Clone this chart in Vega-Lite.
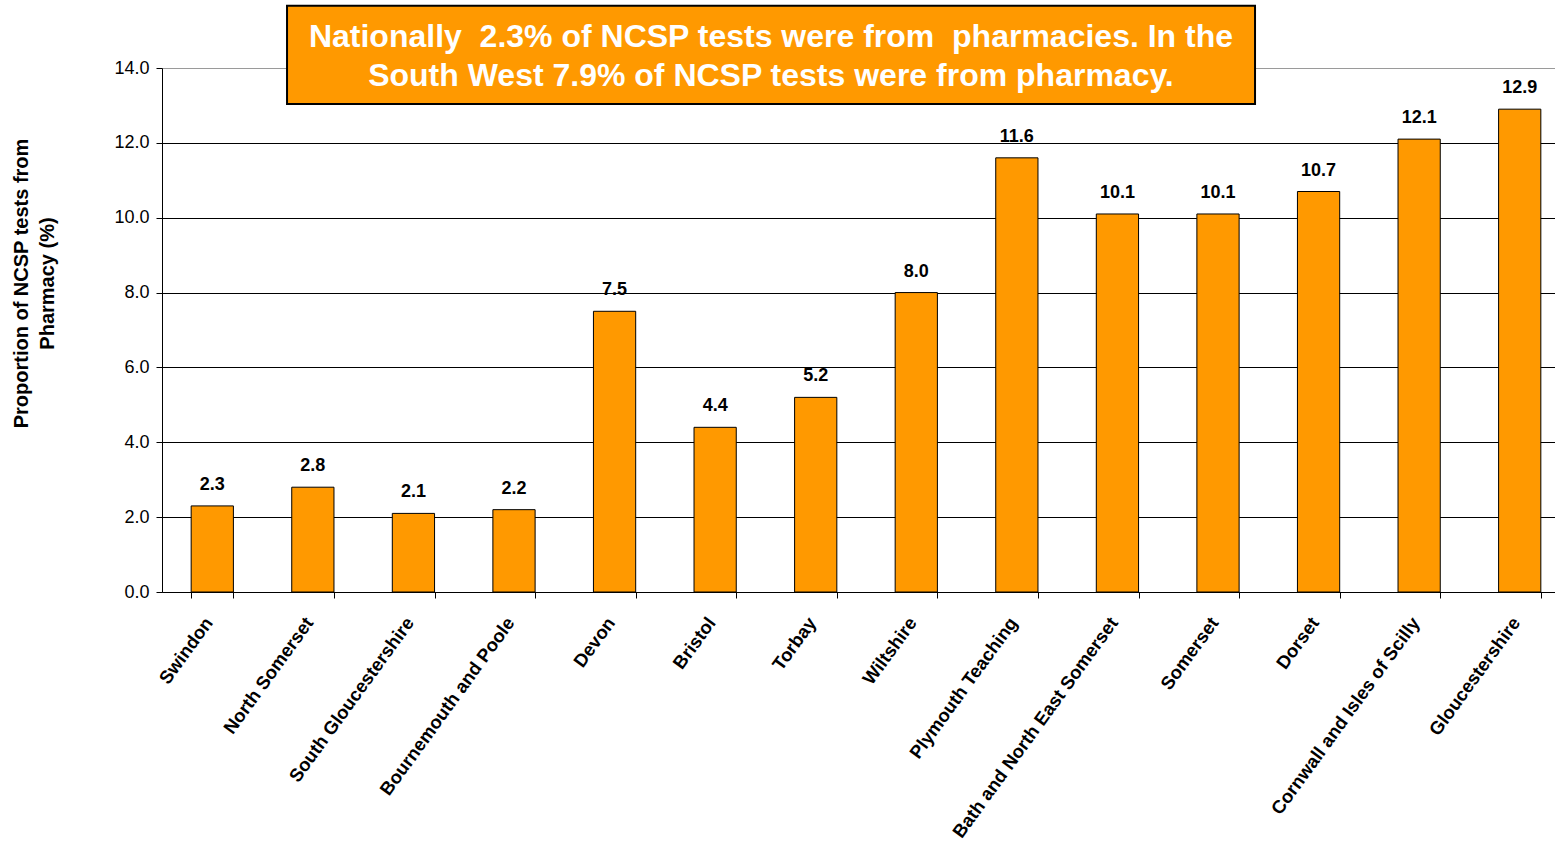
{
  "$schema": "https://vega.github.io/schema/vega-lite/v6.json",
  "autosize": {"type": "none"},
  "padding": {"left": 162, "top": 68, "right": 0, "bottom": 250},
  "width": 1408,
  "height": 524,
  "background": "white",
  "config": {
    "view": {"stroke": null},
    "font": "Liberation Sans"
  },
  "datasets": {
    "pct": [
      {"area": "Swindon", "value": 2.3},
      {"area": "North Somerset", "value": 2.8},
      {"area": "South Gloucestershire", "value": 2.1},
      {"area": "Bournemouth and Poole", "value": 2.2},
      {"area": "Devon", "value": 7.5},
      {"area": "Bristol", "value": 4.4},
      {"area": "Torbay", "value": 5.2},
      {"area": "Wiltshire", "value": 8.0},
      {"area": "Plymouth Teaching", "value": 11.6},
      {"area": "Bath and North East Somerset", "value": 10.1},
      {"area": "Somerset", "value": 10.1},
      {"area": "Dorset", "value": 10.7},
      {"area": "Cornwall and Isles of Scilly", "value": 12.1},
      {"area": "Gloucestershire", "value": 12.9}
    ],
    "note": [
      {"x1": 0.0888, "x2": 0.7763, "xm": 0.4325, "y1": 13.04, "y2": 15.66, "ym": 14.83,
       "text": ["Nationally \u00a02.3% of NCSP tests were from \u00a0pharmacies. In the", "South West 7.9% of NCSP tests were from pharmacy."]}
    ]
  },
  "layer": [
    {
      "data": {"name": "pct"},
      "encoding": {
        "x": {
          "field": "area", "type": "nominal", "sort": null,
          "scale": {"paddingInner": 0.58, "paddingOuter": 0.29},
          "axis": {
            "title": null, "tickBand": "extent", "labelAngle": -54, "labelAlign": "right",
            "labelBaseline": "middle", "labelFontSize": 18.5, "labelFontWeight": "bold",
            "labelColor": "black", "labelPadding": 21, "labelOffset": -4, "tickColor": "black", "tickSize": 6,
            "domainColor": "black", "labelLimit": 400
          }
        },
        "y": {
          "field": "value", "type": "quantitative",
          "scale": {"domain": [0, 14], "nice": false},
          "axis": {
            "values": [0, 2, 4, 6, 8, 10, 12, 14], "format": ".1f",
            "title": ["Proportion of NCSP tests from", "Pharmacy (%)"],
            "titleFontSize": 20, "titleFontWeight": "bold", "titleColor": "black",
            "titleLineHeight": 26, "titleX": -131, "titleY": 215, "titleAngle": -90,
            "labelFontSize": 18, "labelColor": "black", "labelPadding": 7,
            "tickColor": "black", "tickSize": 6, "domainColor": "black",
            "gridColor": {"condition": {"test": "datum.value == 14", "value": "#9a9a9a"}, "value": "black"},
            "gridOpacity": 1, "grid": true
          }
        }
      },
      "layer": [
        {
          "mark": {"type": "bar", "color": "#FF9900", "stroke": "black", "strokeWidth": 1}
        },
        {
          "mark": {"type": "text", "dy": -21, "fontSize": 18, "fontWeight": "bold", "color": "black", "baseline": "middle"},
          "encoding": {
            "text": {"field": "value", "type": "quantitative", "format": ".1f"}
          }
        }
      ]
    },
    {
      "data": {"name": "note"},
      "layer": [
        {
          "mark": {"type": "rect", "color": "#FF9900", "stroke": "black", "strokeWidth": 2},
          "encoding": {
            "x": {"field": "x1", "type": "quantitative", "scale": {"domain": [0, 1]}, "axis": null},
            "x2": {"field": "x2"},
            "y": {"field": "y1", "type": "quantitative"},
            "y2": {"field": "y2"}
          }
        },
        {
          "mark": {"type": "text", "color": "white", "fontSize": 32, "fontWeight": "bold", "lineHeight": 39, "align": "center", "baseline": "middle"},
          "encoding": {
            "x": {"field": "xm", "type": "quantitative", "scale": {"domain": [0, 1]}, "axis": null},
            "y": {"field": "ym", "type": "quantitative"},
            "text": {"field": "text"}
          }
        }
      ]
    }
  ],
  "resolve": {"scale": {"x": "independent"}}
}
